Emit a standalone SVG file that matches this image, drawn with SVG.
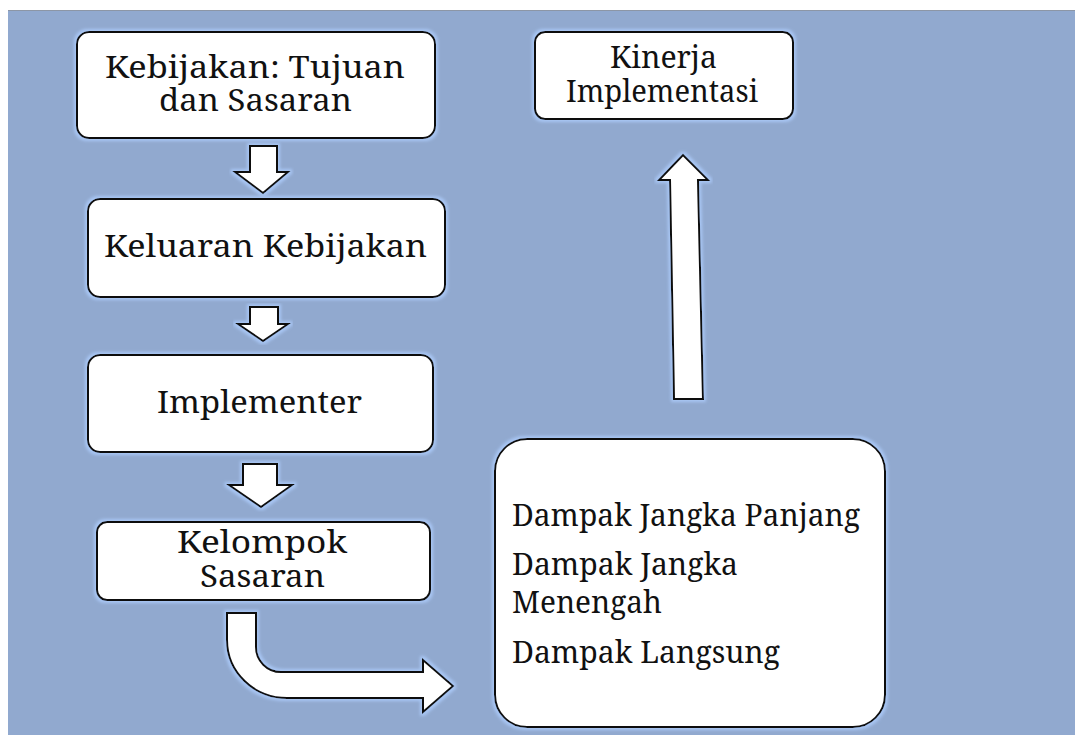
<svg xmlns="http://www.w3.org/2000/svg" width="1075" height="735" viewBox="0 0 1075 735">
<defs>
<filter id="glow" x="-10%" y="-10%" width="120%" height="120%">
<feMorphology in="SourceAlpha" operator="dilate" radius="2" result="d"/>
<feGaussianBlur in="d" stdDeviation="1.5" result="b"/>
<feFlood flood-color="#a8c6f4"/>
<feComposite in2="b" operator="in" result="g"/>
<feMerge><feMergeNode in="g"/><feMergeNode in="SourceGraphic"/></feMerge>
</filter>
</defs>
<style>
.box{fill:#ffffff;stroke:#111;stroke-width:2;filter:url(#glow)}
.arr{fill:#ffffff;stroke:#111;stroke-width:2;stroke-linejoin:miter;filter:url(#glow)}
.t{font-family:"Noto Serif","Liberation Serif","DejaVu Serif",serif;font-size:31px;fill:#111}
</style>
<rect x="0" y="0" width="1075" height="735" fill="#ffffff"/>
<rect x="8" y="10" width="1067" height="725" fill="#91a9cf"/>
<line x1="8" y1="10.5" x2="1075" y2="10.5" stroke="#8c96a6" stroke-width="1"/>

<g id="node-kebijakan">
<rect class="box" x="77" y="32" width="358" height="106" rx="12"/>
<text class="t" x="105" y="78" textLength="300" lengthAdjust="spacingAndGlyphs">Kebijakan: Tujuan</text>
<text class="t" x="159" y="111" textLength="193" lengthAdjust="spacingAndGlyphs">dan Sasaran</text>
</g>
<g id="node-keluaran">
<rect class="box" x="88" y="199" width="357" height="98" rx="12"/>
<text class="t" x="104" y="257" textLength="323" lengthAdjust="spacingAndGlyphs">Keluaran Kebijakan</text>
</g>
<g id="node-implementer">
<rect class="box" x="88" y="355" width="345" height="97" rx="12"/>
<text class="t" x="157" y="413" textLength="205" lengthAdjust="spacingAndGlyphs">Implementer</text>
</g>
<g id="node-kelompok">
<rect class="box" x="97" y="522" width="333" height="78" rx="10"/>
<text class="t" x="177" y="553" textLength="170" lengthAdjust="spacingAndGlyphs">Kelompok</text>
<text class="t" x="200" y="587" textLength="125" lengthAdjust="spacingAndGlyphs">Sasaran</text>
</g>
<g id="node-kinerja">
<rect class="box" x="535" y="32" width="258" height="87" rx="10"/>
<text class="t" x="610" y="68" textLength="107" lengthAdjust="spacingAndGlyphs">Kinerja</text>
<text class="t" x="566" y="102" textLength="192" lengthAdjust="spacingAndGlyphs">Implementasi</text>
</g>
<g id="node-dampak">
<rect class="box" x="495" y="439" width="390" height="288" rx="32"/>
<text class="t" x="512" y="526" textLength="348" lengthAdjust="spacingAndGlyphs">Dampak Jangka Panjang</text>
<text class="t" x="512" y="575" textLength="226" lengthAdjust="spacingAndGlyphs">Dampak Jangka</text>
<text class="t" x="512" y="613" textLength="150" lengthAdjust="spacingAndGlyphs">Menengah</text>
<text class="t" x="512" y="663" textLength="268" lengthAdjust="spacingAndGlyphs">Dampak Langsung</text>
</g>

<g id="connectors">
<path class="arr" d="M250 146 H277 V172 H288 L263 193 L235 172 H250 Z"/>
<path class="arr" d="M250 307 H278 V324 H288 L263 341 L238 324 H250 Z"/>
<path class="arr" d="M243 464 H277 V485 H292 L261 507 L229 485 H243 Z"/>
<path class="arr" d="M227 613 H256 V647 A25 25 0 0 0 281 672 H423 V660 L453 686 L423 712 V698 H287 A60 58 0 0 1 227 640 Z"/>
<path class="arr" d="M674 399 L670 180 L659 180 L683 155 L708 180 L698 180 L703 399 Z"/>
</g>
</svg>
